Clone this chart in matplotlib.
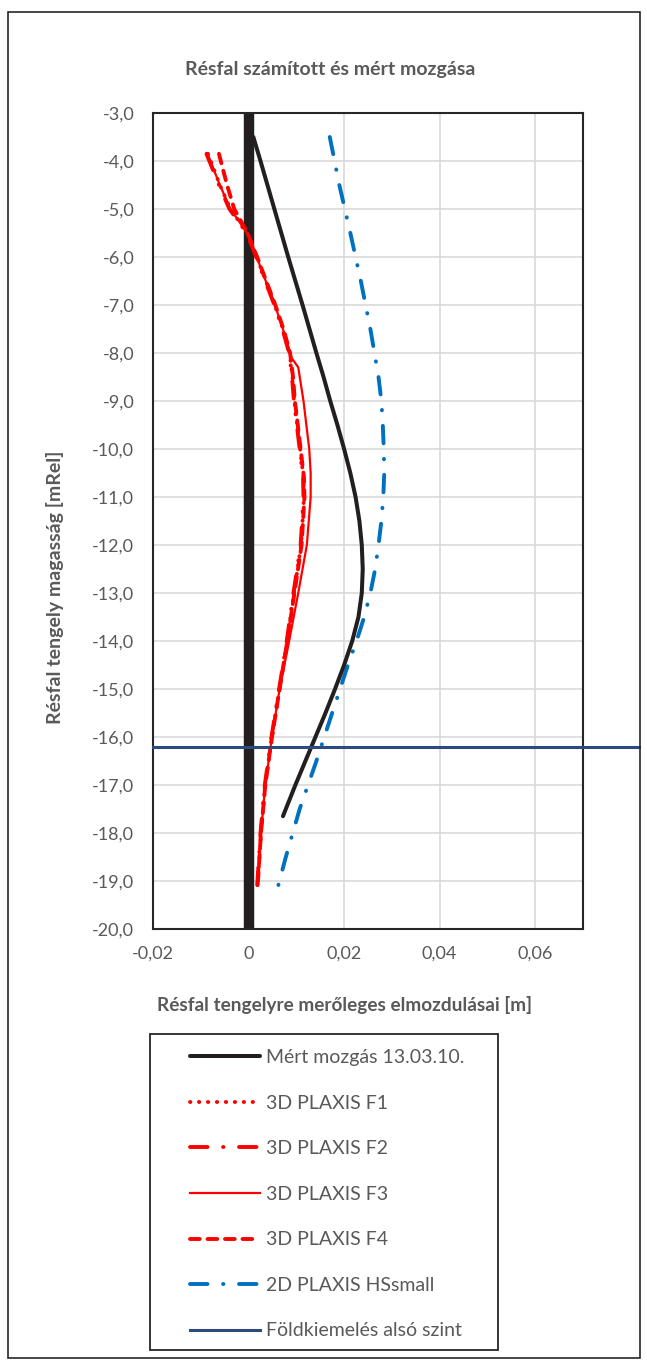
import matplotlib
matplotlib.use("Agg")
import matplotlib.pyplot as plt
from matplotlib.patches import Rectangle
from matplotlib.ticker import FuncFormatter, MultipleLocator

# measured wall movement
meas_depth = [-3.5, -4.0, -5.0, -6.0, -7.0, -8.0, -8.5, -9.0, -9.5, -10.0, -10.5, -11.0, -11.5,
              -12.0, -12.5, -13.0, -13.5, -14.0, -14.5, -15.0, -15.5, -16.0, -16.5, -17.0, -17.65]
meas_x = [0.0010, 0.0025, 0.0054, 0.0083, 0.0113, 0.0142, 0.0157, 0.0171, 0.0186, 0.0200, 0.0213,
          0.0224, 0.0232, 0.0237, 0.0239, 0.0237, 0.0230, 0.0217, 0.0200, 0.0181, 0.0161, 0.0140,
          0.0119, 0.0098, 0.0072]

# 3D PLAXIS runs
red_depth = [-3.85, -4.5, -5.0, -5.5, -6.0, -6.5, -7.0, -7.5, -8.0, -8.5, -9.0, -10.0, -10.6, -11.0,
             -12.0, -13.0, -14.0, -15.0, -16.0, -17.0, -18.0, -19.1]
f1_x = [-0.0085, -0.0060, -0.0038, -0.0003, 0.0017, 0.0036, 0.0055, 0.0072, 0.0086, 0.0092, 0.0096, 0.0108,
        0.0115, 0.0116, 0.0110, 0.0095, 0.0081, 0.0065, 0.0049, 0.0035, 0.0026, 0.0019]
f2_x = [-0.0088, -0.0062, -0.0040, -0.0004, 0.0016, 0.0035, 0.0054, 0.0071, 0.0085, 0.0091, 0.0095, 0.0107,
        0.0114, 0.0115, 0.0109, 0.0094, 0.0080, 0.0064, 0.0048, 0.0034, 0.0025, 0.0018]
f4_x = [-0.0062, -0.0045, -0.0030, -0.0002, 0.0018, 0.0037, 0.0056, 0.0073, 0.0087, 0.0093, 0.0097, 0.0109,
        0.0116, 0.0117, 0.0111, 0.0096, 0.0081, 0.0065, 0.0049, 0.0035, 0.0026, 0.0019]
f3_depth = [-3.85, -4.5, -5.0, -5.5, -6.0, -6.5, -7.0, -7.5, -8.1, -8.3, -9.0, -10.0, -10.5, -11.0,
            -12.0, -13.0, -14.1, -15.0, -16.0, -17.0, -18.0, -19.1]
f3_x = [-0.0086, -0.0060, -0.0038, -0.0003, 0.0017, 0.0036, 0.0055, 0.0072, 0.0090, 0.0104, 0.0115, 0.0127,
        0.0130, 0.0130, 0.0122, 0.0104, 0.0083, 0.0065, 0.0049, 0.0035, 0.0026, 0.0019]

# 2D PLAXIS HSsmall
hs_depth = [-3.5, -4.5, -5.5, -6.5, -7.5, -8.5, -9.0, -9.5, -10.0, -10.5, -11.0, -11.5, -12.0, -12.5,
            -13.0, -13.5, -14.0, -14.5, -15.5, -16.5, -17.5, -18.5, -19.1]
hs_x = [0.0170, 0.0190, 0.0213, 0.0235, 0.0255, 0.0272, 0.0278, 0.0281, 0.0283, 0.0284, 0.0282, 0.0278,
        0.0272, 0.0265, 0.0255, 0.0242, 0.0226, 0.0208, 0.0175, 0.0142, 0.0107, 0.0078, 0.0062]

# wall and excavation level
wall_x = [0.0, 0.0]
wall_depth = [-3.0, -20.0]
exc_x = [-0.02, 0.0818]
exc_depth = [-16.2, -16.2]

labels = ["Mért mozgás 13.03.10.", "3D PLAXIS F1", "3D PLAXIS F2", "3D PLAXIS F3",
          "3D PLAXIS F4", "2D PLAXIS HSsmall", "Földkiemelés alsó szint"]

FONT = ["Lato", "DejaVu Sans"]
GRAY = "#595959"
RED = "#FF0000"
BLUE = "#0070C0"
NAVY = "#2E4A7D"

plt.rcParams["font.family"] = FONT

fig = plt.figure(figsize=(6.47, 13.66), dpi=100)
ax = fig.add_axes([153 / 647, 437 / 1366, 430 / 647, 816 / 1366])

ax.plot(wall_x, wall_depth, color="#231F20", lw=7.5, solid_capstyle="butt", zorder=2)
ax.plot(meas_x, meas_depth, color="#231F20", lw=2.9, label=labels[0], zorder=4,
        solid_capstyle="round", solid_joinstyle="round")
ax.plot(f1_x, red_depth, color=RED, lw=2.8, ls=(0, (0.1, 2.2)), dash_capstyle="round",
        label=labels[1], zorder=3)
ax.plot(f2_x, red_depth, color=RED, lw=2.8, ls=(0, (4.5, 4.0, 0.1, 4.0)), dash_capstyle="round",
        label=labels[2], zorder=3)
ax.plot(f3_x, f3_depth, color=RED, lw=1.6, label=labels[3], zorder=3)
ax.plot(f4_x, red_depth, color=RED, lw=2.8, ls=(0, (2.5, 2.0)), dash_capstyle="round",
        label=labels[4], zorder=3)
ax.plot(hs_x, hs_depth, color=BLUE, lw=2.8, ls=(0, (4.5, 4.0, 0.1, 4.0)), dash_capstyle="round",
        label=labels[5], zorder=3)
ax.plot(exc_x, exc_depth, color=NAVY, lw=2.2, label=labels[6], clip_on=False, zorder=5)

ax.set_xlim(-0.02, 0.07)
ax.set_ylim(-20, -3)
ax.xaxis.set_major_locator(MultipleLocator(0.02))
ax.yaxis.set_major_locator(MultipleLocator(1.0))
ax.xaxis.set_major_formatter(FuncFormatter(
    lambda v, p: "0" if abs(v) < 1e-9 else f"{v:.2f}".replace(".", ",")))
ax.yaxis.set_major_formatter(FuncFormatter(lambda v, p: f"{v:.1f}".replace(".", ",")))
ax.grid(True, color="#D9D9D9", lw=1.2)
ax.set_axisbelow(True)
ax.tick_params(length=0, labelsize=13, labelcolor=GRAY)
ax.tick_params(axis="y", pad=13.5)
ax.tick_params(axis="x", pad=12)
for s in ax.spines.values():
    s.set_color("#262626")
    s.set_linewidth(1.5)

fig.text(330 / 647, 1 - 70 / 1366, "Résfal számított és mért mozgása", ha="center", va="center",
         fontsize=14, fontweight="bold", color=GRAY)
fig.text(55 / 647, 1 - 587 / 1366, "Résfal tengely magasság [mRel]", rotation=90,
         ha="center", va="center", fontsize=14, fontweight="bold", color=GRAY)
fig.text(345 / 647, 1 - 1005 / 1366, "Résfal tengelyre merőleges elmozdulásai [m]",
         ha="center", va="center", fontsize=13.7, fontweight="bold", color=GRAY)

# legend box and outer chart border
fig.add_artist(Rectangle((150 / 647, 1 - 1350 / 1366), 348 / 647, 316 / 1366,
                         transform=fig.transFigure, fill=False, ec="#262626", lw=1.3))
fig.add_artist(Rectangle((8 / 647, 1 - 1358 / 1366), 632 / 647, 1346 / 1366,
                         transform=fig.transFigure, fill=False, ec="#262626", lw=1.2))

handles, labs = ax.get_legend_handles_labels()
leg = fig.legend(handles, labs, loc="upper left", bbox_to_anchor=(190 / 647, 1 - 1049 / 1366),
                 frameon=False, fontsize=14, handlelength=3.6, handletextpad=0.3,
                 labelspacing=1.47, borderpad=0, borderaxespad=0)
for t in leg.get_texts():
    t.set_color(GRAY)

fig.savefig("out.png", dpi=100)
